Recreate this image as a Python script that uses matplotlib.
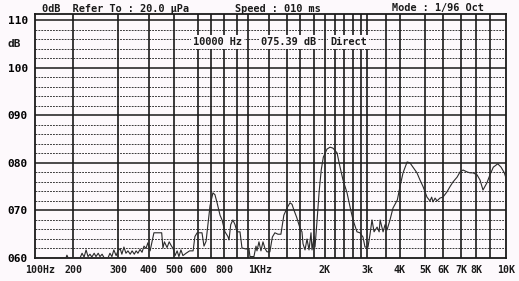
import numpy as np
import matplotlib.pyplot as plt
from matplotlib import transforms

# response (Hz, dB)
freq = [100, 176, 179, 183,
        213, 217, 221, 225, 229, 233, 237, 242, 246, 251, 255, 260, 265,
        274, 279, 284, 289, 295, 300,
        306, 311, 317, 323, 329, 336, 342, 349, 355, 361, 368, 375, 382, 389, 396,
        404, 411, 418, 434, 448, 453, 459, 470, 479, 489, 496,
        504, 512, 519, 527, 535, 548, 563, 578, 586, 596,
        629, 644, 660, 675, 692,
        714, 729, 745, 768, 784,
        807, 829, 837, 850, 867, 884,
        900, 926, 944, 980,
        1009, 1017, 1053, 1072, 1081, 1100, 1119, 1139, 1159, 1179,
        1209, 1235, 1262, 1296, 1329, 1363,
        1400, 1444, 1474, 1503, 1548,
        1600, 1627, 1641, 1669, 1697, 1726, 1755, 1770,
        1800, 1817, 1854, 1891, 1929, 1968,
        2039, 2098, 2158, 2244, 2310, 2377, 2465, 2533,
        2600, 2698, 2774, 2865, 2932,
        3024, 3074, 3124, 3177, 3256, 3311, 3337, 3418, 3474,
        3534, 3636, 3742, 3900,
        4000, 4110, 4264, 4373, 4493, 4655, 4782, 4916,
        5102, 5259, 5350, 5424, 5540, 5646, 5817,
        6000, 6206, 6370, 6538, 6769, 6942,
        7126, 7386, 7585, 7790,
        8068, 8275, 8485, 8771,
        9000, 9200, 9472, 9680, 9893, 10000]
level = [60.0, 60.0, 60.6, 60.0,
         60.0, 61.0, 60.2, 61.7, 60.3, 60.8, 60.2, 61.0, 60.3, 61.0, 60.3, 60.8, 60.0,
         60.0, 61.0, 60.3, 61.7, 60.5, 61.5,
         62.0, 60.8, 62.3, 61.0, 61.5, 60.8, 61.5, 60.8, 61.5, 61.0, 61.8, 61.2, 62.5, 62.0, 63.2,
         61.5, 63.4, 65.3, 65.3, 65.3, 62.1, 63.4, 62.2, 63.4, 62.5, 62.0,
         60.5, 61.5, 60.3, 61.7, 60.5, 61.0, 61.5, 61.5, 64.5, 65.3,
         65.3, 62.5, 63.5, 67.0, 71.0,
         73.7, 73.3, 71.6, 69.0, 68.0,
         65.5, 64.5, 63.8, 67.0, 68.0, 67.0,
         65.5, 65.5, 62.1, 61.9,
         61.9, 60.3, 60.3, 62.5, 61.5, 63.4, 61.5, 63.4, 62.0, 61.3,
         61.3, 64.4, 65.3, 65.0, 65.0, 69.0,
         70.5, 71.6, 71.3, 70.1, 68.5,
         66.3, 65.5, 63.0, 61.7, 64.0, 61.7, 65.3, 61.7,
         64.5, 62.3, 68.0, 74.0, 78.5, 81.2,
         82.9, 83.3, 83.1, 82.1, 79.1, 76.4, 73.7, 70.7,
         68.0, 65.5, 65.3, 64.4, 62.3,
         62.3, 65.0, 68.0, 65.5, 66.5, 65.5, 68.0, 65.5, 67.0,
         65.9, 68.0, 70.5, 72.2,
         75.0, 77.9, 80.2, 80.0, 79.1, 77.9, 76.4, 75.0,
         72.8, 72.0, 72.8, 71.8, 72.6, 72.0, 72.6,
         72.8, 73.9, 75.0, 76.0, 77.0, 78.1,
         78.5, 78.1, 77.9, 77.9,
         77.5, 76.4, 74.3, 75.8,
         77.5, 79.1, 79.8, 79.1, 77.9, 76.8]

tick_freqs = [100, 200, 300, 400, 500, 600, 800, 1000, 2000, 3000,
              4000, 5000, 6000, 7000, 8000, 10000]
tick_labels = ['100Hz', '200', '300', '400', '500', '600', '800', '1KHz', '2K', '3k',
               '4K', '5K', '6K', '7K', '8K', '10K']
grid_freqs = [200, 300, 400, 500, 600, 700, 800, 900, 1000, 1200, 1400, 1600, 1800,
              2000, 2200, 2400, 2600, 2800, 3000, 3500, 4000, 5000, 6000, 7000,
              8000, 9000]
y_ticks = [60, 70, 80, 90, 100, 110]

# the printed frequency axis is not a clean log axis: where each printed
# grid frequency sits across the plot (0 = left edge, 1 = right edge)
scale_freqs = [100, 200, 300, 400, 500, 600, 700, 800, 900, 1000, 1200, 1400, 1600,
               1800, 2000, 2200, 2400, 2600, 2800, 3000, 3500, 4000, 5000, 6000,
               7000, 8000, 9000, 10000]
scale_pos = [0.0, 0.0807, 0.1762, 0.2420, 0.2951, 0.3461, 0.3737, 0.4013, 0.4289,
             0.4522, 0.4968, 0.5350, 0.5626, 0.5924, 0.6157, 0.6369, 0.6561, 0.6752,
             0.6921, 0.7049, 0.7452, 0.7749, 0.8280, 0.8662, 0.9045, 0.9363, 0.9660, 1.0]

log_f = np.log10(scale_freqs)


def fwd(f):
    f = np.clip(np.asarray(f, dtype=float), 1.0, None)
    return np.interp(np.log10(f), log_f, scale_pos, left=-1, right=2)


def inv(p):
    return 10 ** np.interp(p, scale_pos, log_f)


bg = '#fdf9fc'
ink = '#1a1a1a'
mono = 'DejaVu Sans Mono'

fig = plt.figure(figsize=(5.19, 2.81), dpi=100, facecolor=bg)
ax = fig.add_axes([35 / 519, 23 / 281, 471 / 519, 244 / 281])
ax.set_facecolor(bg)
ax.set_xscale('function', functions=(fwd, inv))
ax.set_xlim(100, 10000)
ax.set_ylim(60, 111.3)

for f in grid_freqs:
    ax.axvline(f, color=ink, lw=1.2, zorder=1)
for v in range(62, 111, 2):
    if v % 10 == 0:
        ax.axhline(v, color=ink, lw=1.1, zorder=1)
    else:
        ax.axhline(v, color=ink, lw=0.6, ls=(0, (2.2, 1.3)), zorder=1)

ax.plot(freq, level, color='#2a2a2a', lw=0.8, zorder=3)

for s in ax.spines.values():
    s.set_color(ink)
    s.set_linewidth(1.3)

ax.xaxis.set_minor_locator(plt.NullLocator())
ax.set_xticks([])
ax.set_yticks(y_ticks, ['%03d' % v for v in y_ticks])
ax.tick_params(axis='y', length=0, pad=5, labelsize=8)
for lab in ax.get_yticklabels():
    lab.set_fontfamily(mono)
    lab.set_fontweight('bold')

blend = transforms.blended_transform_factory(ax.transData, ax.transAxes)
for f, lab in zip(tick_freqs, tick_labels):
    ha = 'left' if lab == '1KHz' else 'center'
    tr = blend
    if lab == '100Hz':
        tr = blend + transforms.ScaledTranslation(5 / 100, 0, fig.dpi_scale_trans)
    ax.text(f, -0.028, lab, transform=tr, ha=ha, va='top', fontsize=7.1,
            family=mono, fontweight='bold', color=ink)

fig.text(8 / 519, 1 - 44 / 281, 'dB', fontsize=8, family=mono, fontweight='bold',
         color=ink, va='center')

head = dict(fontsize=7.4, family=mono, fontweight='bold', color=ink, va='center')
fig.text(42 / 519, 1 - 8.5 / 281, '0dB  Refer To : 20.0 μPa', **head)
fig.text(235 / 519, 1 - 8.5 / 281, 'Speed : 010 ms', **head)
fig.text(392 / 519, 1 - 8.5 / 281, 'Mode : 1/96 Oct', **head)

box = dict(facecolor=bg, edgecolor='none', pad=1.5)
fig.text(193 / 519, 1 - 42 / 281, '10000 Hz', bbox=box, zorder=5, **head)
fig.text(261 / 519, 1 - 42 / 281, '075.39 dB', bbox=box, zorder=5, **head)
fig.text(330 / 519, 1 - 42 / 281, 'Direct', bbox=box, zorder=5, **head)

fig.savefig('out.png', dpi=100, facecolor=bg)
